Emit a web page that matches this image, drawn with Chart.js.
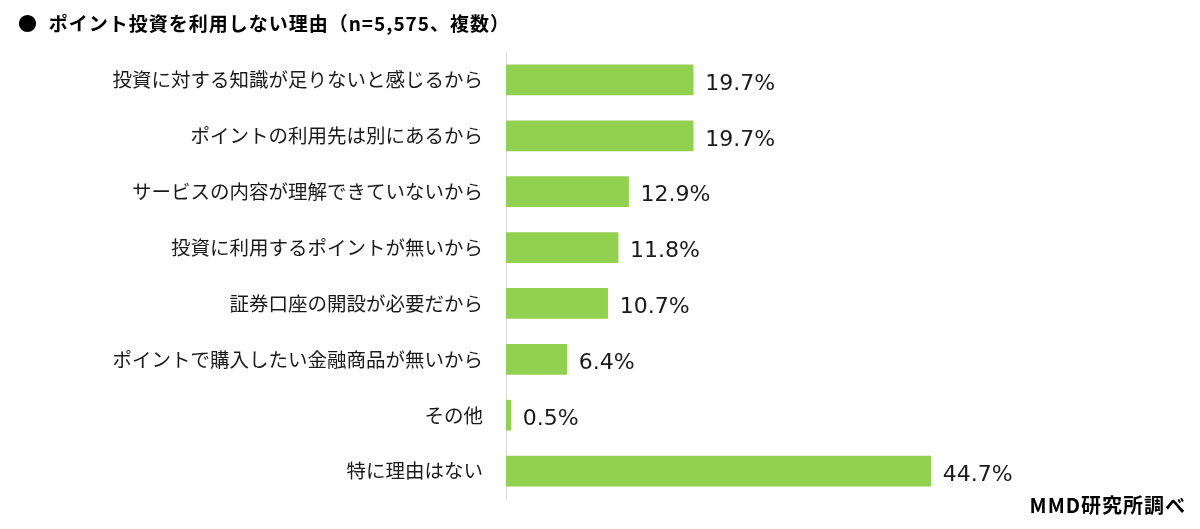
<!DOCTYPE html>
<html>
<head>
  <title>ポイント投資を利用しない理由</title>
  <script src="https://cdn.jsdelivr.net/npm/chart.js"></script>
  <style>
    html, body { margin: 0; padding: 0; background: #fff; }
    #wrap { width: 1200px; height: 529px; position: relative; }
  </style>
  <script>
    const titleText = '●  ポイント投資を利用しない理由（n=5,575、複数）';
    const sourceText = 'MMD研究所調べ';

    const categories = [
      '投資に対する知識が足りないと感じるから',
      'ポイントの利用先は別にあるから',
      'サービスの内容が理解できていないから',
      '投資に利用するポイントが無いから',
      '証券口座の開設が必要だから',
      'ポイントで購入したい金融商品が無いから',
      'その他',
      '特に理由はない'
    ];
    const percents = [19.7, 19.7, 12.9, 11.8, 10.7, 6.4, 0.5, 44.7];

    const jpFont = '"Noto Sans CJK JP", "Noto Sans", sans-serif';

    // value labels right of each bar + header / source text
    const extras = {
      id: 'extras',
      afterDatasetsDraw(chart) {
        const ctx = chart.ctx;
        const meta = chart.getDatasetMeta(0);
        ctx.save();
        ctx.fillStyle = '#1a1a1a';
        ctx.font = '22px "DejaVu Sans", sans-serif';
        ctx.textAlign = 'left';
        ctx.textBaseline = 'middle';
        meta.data.forEach((bar, i) => {
          ctx.fillText(percents[i].toFixed(1) + '%', bar.x + 12, bar.y + 4);
        });

        ctx.font = 'bold 19px ' + jpFont;
        ctx.letterSpacing = '1px';
        ctx.fillStyle = '#000';
        ctx.fillText(titleText, 18, 24);

        ctx.font = 'bold 20px ' + jpFont;
        ctx.textAlign = 'right';
        ctx.fillText(sourceText, 1186, 505);
        ctx.restore();
      }
    };

    window.onload = function() {
      const ctx = document.getElementById('myChart').getContext('2d');
      new Chart(ctx, {
        type: 'bar',
        data: {
          labels: categories,
          datasets: [{
            data: percents,
            backgroundColor: '#92D050',
            borderWidth: 0,
            barThickness: 30
          }]
        },
        options: {
          indexAxis: 'y',
          responsive: false,
          animation: false,
          layout: { padding: { top: 52, bottom: 30, left: 0, right: 124 } },
          plugins: {
            legend: { display: false },
            title: { display: false },
            tooltip: { enabled: false }
          },
          scales: {
            x: {
              display: false,
              min: 0,
              max: 60
            },
            y: {
              afterFit: (scale) => { scale.width = 506; },
              grid: { display: false },
              border: { display: true, color: '#d9d9d9', width: 1 },
              ticks: {
                color: '#1a1a1a',
                padding: 15,
                font: { family: jpFont, size: 19.5 }
              }
            }
          }
        },
        plugins: [extras]
      });
    };
  </script>
</head>
<body>
<div id="wrap"><canvas id="myChart" width="1200" height="529"></canvas></div>
</body>
</html>
